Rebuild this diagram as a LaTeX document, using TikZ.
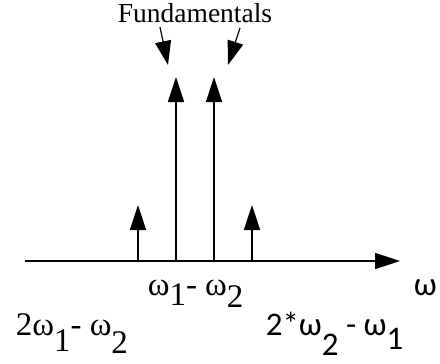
\documentclass[tikz,border=0pt]{standalone}
\usepackage{fontspec}
\setmainfont{Carlito}
\newfontfamily\titleface{Liberation Serif}
\usetikzlibrary{arrows.meta, positioning}
\newcommand\lowsub[2][0.4em]{\raisebox{-#1}{#2}}

\begin{document}
\begin{tikzpicture}[x=1pt, y=-1pt, >={Triangle[length=25pt, width=16pt]}, line width=1.6pt]
        \path[use as bounding box] (0, 0) rectangle (440, 364);
        \tikzset{lbl/.style={inner sep=0pt, anchor=base west, font=\fontsize{33}{33}\selectfont},
                 serlbl/.style={lbl, font=\titleface\fontsize{33}{33}\selectfont}}
        % frequency axis
        \coordinate (axstart) at (25, 261);
        \coordinate (axend) at (400, 261);
        \draw[->] (axstart) -- (axend);
        % spectral lines
        \foreach \nm/\x/\top in {imlow/138/205, funa/176/77, funb/214/77, imhigh/252/205} {
            \coordinate (\nm base) at (\x, 261);
            \coordinate (\nm) at (\x, \top);
            \draw[->] (\nm base) -- (\nm);
        }
        \node[inner sep=0pt, anchor=base, font=\titleface\fontsize{27.5}{27.5}\selectfont] (fund) at (195, 23) {Fundamentals};
        \coordinate (fundl) at (160, 27);
        \coordinate (fundr) at (240, 28);
        \coordinate (pointl) at (168, 65);
        \coordinate (pointr) at (228, 65);
        \draw[->, line width=1.2pt, >={Triangle[length=24pt, width=16pt]}] (fundl) -- (pointl);
        \draw[->, line width=1.2pt, >={Triangle[length=24pt, width=16pt]}] (fundr) -- (pointr);
        % labels
        \node[serlbl] (mid) at (147, 295) {ω\lowsub[10pt]{1}- ω\lowsub[12pt]{2}};
        \node[lbl] (omega) at (413, 295) {ω};
        \node[serlbl] (low) at (15, 335) {2ω\lowsub[16pt]{1}- ω\lowsub[18pt]{2}};
        \node[lbl] (high) at (265, 335) {2*ω\lowsub[20pt]{2} - ω\lowsub[14pt]{1}};
    \end{tikzpicture}
\end{document}
